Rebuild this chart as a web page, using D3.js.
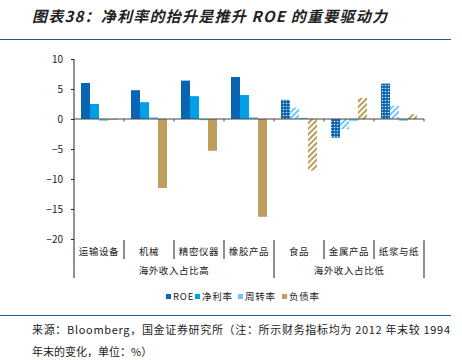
<!DOCTYPE html>
<html>
<head>
  <meta charset="utf-8">
  <script src="https://d3js.org/d3.v7.min.js"></script>
  <style>
    body { margin: 0; background: #fff; }
    text { font-family: "Noto Sans CJK SC", "Liberation Sans", sans-serif; }
  </style>
</head>
<body>
<div id="chart"></div>
<script>
  const categories = ["运输设备", "机械", "精密仪器", "橡胶产品", "食品", "金属产品", "纸浆与纸"]
  const groups = ["海外收入占比高", "海外收入占比低"]
  const groupSizes = [4, 3]
  const seriesNames = ["ROE", "净利率", "周转率", "负债率"]
  const roe = [6.0, 4.8, 6.4, 7.0, 3.2, -3.1, 5.9]
  const netMargin = [2.5, 2.8, 3.8, 4.0, 1.9, -1.7, 2.2]
  const turnover = [-0.3, 0.3, -0.2, 0.3, 0.2, -0.3, -0.3]
  const leverage = [-0.1, -11.5, -5.3, -16.3, -8.6, 3.5, 0.8]
  const yTicks = [10, 5, 0, -5, -10, -15, -20]

  const series = [roe, netMargin, turnover, leverage]
  const colors = ["#0A64B4", "#00A0E6", "#6FC8F2", "#BF9D5C"]

  const width = 462, height = 360
  const svg = d3.select("#chart").append("svg")
    .attr("width", width).attr("height", height)

  // patterns for the low-overseas group
  const defs = svg.append("defs")
  const dots = defs.append("pattern").attr("id", "dots")
    .attr("patternUnits", "userSpaceOnUse").attr("width", 3).attr("height", 3)
  dots.append("rect").attr("width", 3).attr("height", 3).attr("fill", colors[0])
  dots.append("circle").attr("cx", 1.5).attr("cy", 1.5).attr("r", 0.8).attr("fill", "#dbeaf8")

  function hatch(id, color) {
    const p = defs.append("pattern").attr("id", id)
      .attr("patternUnits", "userSpaceOnUse").attr("width", 4).attr("height", 4)
      .attr("patternTransform", "rotate(45)")
    p.append("rect").attr("width", 4).attr("height", 4).attr("fill", "#fff")
    p.append("rect").attr("width", 2).attr("height", 4).attr("fill", color)
  }
  hatch("hatchNet", "#6FC8F2")
  hatch("hatchLev", colors[3])
  const lowFill = ["url(#dots)", "url(#hatchNet)", colors[2], "url(#hatchLev)"]

  // title
  svg.append("text").attr("x", 32).attr("y", 22)
    .attr("font-size", 15).attr("font-weight", "bold").attr("font-style", "italic")
    .attr("fill", "#222").attr("textLength", 355).attr("lengthAdjust", "spacing")
    .text("图表38：净利率的抬升是推升 ROE 的重要驱动力")
  svg.append("line").attr("x1", 0).attr("x2", 451).attr("y1", 39.5).attr("y2", 39.5)
    .attr("stroke", "#1F5A8C").attr("stroke-width", 1)

  const x0 = 74, x1 = 424
  const x = d3.scaleBand().domain(categories).range([x0, x1])
  const xi = d3.scaleBand().domain(seriesNames).range([7, x.bandwidth() - 7])
  const y = d3.scaleLinear().domain([-20, 10]).range([239, 59])

  // y axis
  const yAxis = svg.append("g").attr("transform", `translate(${x0},0)`)
    .call(d3.axisLeft(y).tickValues(yTicks).tickSize(3).tickPadding(8))
  yAxis.select(".domain").remove()
  yAxis.selectAll("text").attr("font-family", "Liberation Sans, sans-serif")
    .attr("font-size", 10).attr("fill", "#222")
  yAxis.selectAll("line").attr("stroke", "#222")
  svg.append("line").attr("x1", x0).attr("x2", x0).attr("y1", y(10)).attr("y2", 278)
    .attr("stroke", "#222")

  // bars
  categories.forEach((c, ci) => {
    const low = ci >= groupSizes[0]
    series.forEach((s, si) => {
      const v = s[ci]
      svg.append("rect")
        .attr("x", x(c) + xi(seriesNames[si]))
        .attr("width", xi.bandwidth())
        .attr("y", y(Math.max(0, v)))
        .attr("height", Math.abs(y(v) - y(0)))
        .attr("fill", low ? lowFill[si] : colors[si])
    })
  })

  // zero line with ticks
  svg.append("line").attr("x1", x0).attr("x2", x1).attr("y1", y(0)).attr("y2", y(0))
    .attr("stroke", "#444").attr("stroke-width", 1.2)
  categories.forEach(c => {
    svg.append("line").attr("x1", x(c) + x.bandwidth()).attr("x2", x(c) + x.bandwidth())
      .attr("y1", y(0)).attr("y2", y(0) + 2.5).attr("stroke", "#444")
  })

  // category labels and separators
  categories.forEach((c, ci) => {
    svg.append("text").attr("x", x(c) + x.bandwidth() / 2).attr("y", 255)
      .attr("text-anchor", "middle").attr("font-size", 9.5).attr("letter-spacing", 0.6)
      .attr("fill", "#222").text(c)
    const xr = x(c) + x.bandwidth()
    const isGroupEnd = ci === groupSizes[0] - 1 || ci === categories.length - 1
    svg.append("line").attr("x1", xr).attr("x2", xr)
      .attr("y1", 240).attr("y2", isGroupEnd ? 278 : 259)
      .attr("stroke", "#444").attr("stroke-width", 1.2)
  })
  let start = 0
  groups.forEach((g, gi) => {
    const a = x(categories[start])
    const b = x(categories[start + groupSizes[gi] - 1]) + x.bandwidth()
    svg.append("text").attr("x", (a + b) / 2).attr("y", 274)
      .attr("text-anchor", "middle").attr("font-size", 9.5).attr("letter-spacing", 0.6)
      .attr("fill", "#222").text(g)
    start += groupSizes[gi]
  })

  // legend
  const legendX = [166, 195, 238, 282]
  seriesNames.forEach((n, i) => {
    svg.append("rect").attr("x", legendX[i]).attr("y", 294).attr("width", 5).attr("height", 5)
      .attr("fill", colors[i])
    svg.append("text").attr("x", legendX[i] + 7).attr("y", 300)
      .attr("font-size", 9.5).attr("letter-spacing", 0.8).attr("fill", "#222").text(n)
  })

  // footer
  svg.append("line").attr("x1", 0).attr("x2", 451).attr("y1", 315.5).attr("y2", 315.5)
    .attr("stroke", "#1F5A8C").attr("stroke-width", 1)
  svg.append("text").attr("x", 32).attr("y", 334).attr("font-size", 11).attr("fill", "#222")
    .attr("textLength", 418).attr("lengthAdjust", "spacing")
    .text("来源：Bloomberg，国金证券研究所（注：所示财务指标均为 2012 年末较 1994")
  svg.append("text").attr("x", 32).attr("y", 356).attr("font-size", 11).attr("fill", "#222")
    .text("年末的变化，单位：%）")
</script>
</body>
</html>
